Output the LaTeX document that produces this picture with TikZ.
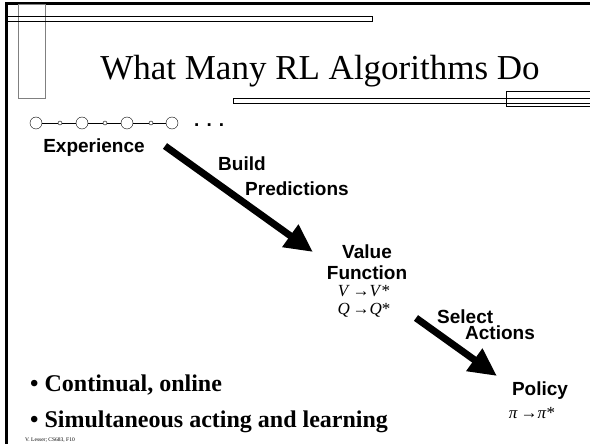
\documentclass[tikz,border=0pt]{standalone}
\usepackage{fontspec}
\setmainfont{Liberation Serif}
\setsansfont{Liberation Sans}
\usetikzlibrary{positioning}
\usetikzlibrary{arrows.meta}

\begin{document}
\begin{tikzpicture}[x=1pt, y=-1pt,
    steplabel/.style={font=\sffamily\bfseries\fontsize{19}{20}\selectfont, inner sep=0pt},
    formula/.style={font=\fontsize{17}{18}\selectfont, inner sep=0pt},
    bullet/.style={font=\bfseries\fontsize{24}{26}\selectfont, inner sep=0pt, anchor=base west},
    bigstate/.style={circle, draw, thin, minimum size=12pt, inner sep=0pt},
    smallstate/.style={circle, draw, thin, minimum size=4pt, inner sep=0pt},
    bigarrow/.style={line width=7pt, -{Triangle[length=28pt, width=26pt]}},
    border/.style={line width=3pt},
    bar/.style={line width=0.8pt}]

    % Page size
    \useasboundingbox (0,0) rectangle (590,444);

    % Slide frame
    \draw[border] (6,444) -- (6,4) -- (590,4);
    \draw[bar, gray] (18,4) rectangle (45,98);
    \draw[bar] (6,16) rectangle (372,21);
    \draw[bar] (233,98) rectangle (592,103);
    \draw[bar] (506,91) rectangle (592,106);

    % Title
    \node[font=\fontsize{35}{40}\selectfont, inner sep=0pt, anchor=base] (title) at (320,80) {What Many RL Algorithms Do};

    % Experience chain
    \node[bigstate] (e1) at (36,123) {};
    \node[smallstate] (s1) at (60,123) {};
    \node[bigstate] (e2) at (82,123) {};
    \node[smallstate] (s2) at (105,123) {};
    \node[bigstate] (e3) at (127,123) {};
    \node[smallstate] (s3) at (151,123) {};
    \node[bigstate] (e4) at (172,123) {};
    \draw (e1) -- (s1) -- (e2) -- (s2) -- (e3) -- (s3) -- (e4);
    \node[steplabel, anchor=base west] (dots) at (194,127) {. . .};

    % Labels
    \node[steplabel, anchor=base] (exp) at (94,153) {Experience};
    \node[steplabel, anchor=base west] (build) at (218,171) {Build};
    \node[steplabel, anchor=base west] (pred) at (245,195) {Predictions};
    \node[steplabel, anchor=base] (value) at (367,258) {Value};
    \node[steplabel, anchor=base] (func) at (367,279) {Function};
    \node[formula, anchor=base] (vstar) at (364,296) {\textit{V}\,→\textit{V}*};
    \node[formula, anchor=base] (qstar) at (364,314) {\textit{Q}\,→\textit{Q}*};
    \node[steplabel, anchor=base west] (select) at (437,323) {Select};
    \node[steplabel, anchor=base west] (act) at (465,339) {Actions};
    \node[steplabel, anchor=base] (policy) at (540,395) {Policy};
    \node[formula, anchor=base] (pistar) at (532,418) {\textit{π}\,→\textit{π}*};

    % Big arrows
    \coordinate (BuildStart) at (165,146);
    \coordinate (BuildEnd) at (313,252);
    \coordinate (SelectStart) at (416,318);
    \coordinate (SelectEnd) at (497,376);
    \draw[bigarrow] (BuildStart) -- (BuildEnd);
    \draw[bigarrow] (SelectStart) -- (SelectEnd);

    % Bullets and footer
    \node[bullet] (b1) at (30,391) {• Continual, online};
    \node[bullet] (b2) at (30,427) {• Simultaneous acting and learning};
    \node[font=\fontsize{5.5}{6}\selectfont, inner sep=0pt, anchor=base west] (foot) at (25,441) {V. Lesser; CS683, F10};
\end{tikzpicture}
\end{document}
